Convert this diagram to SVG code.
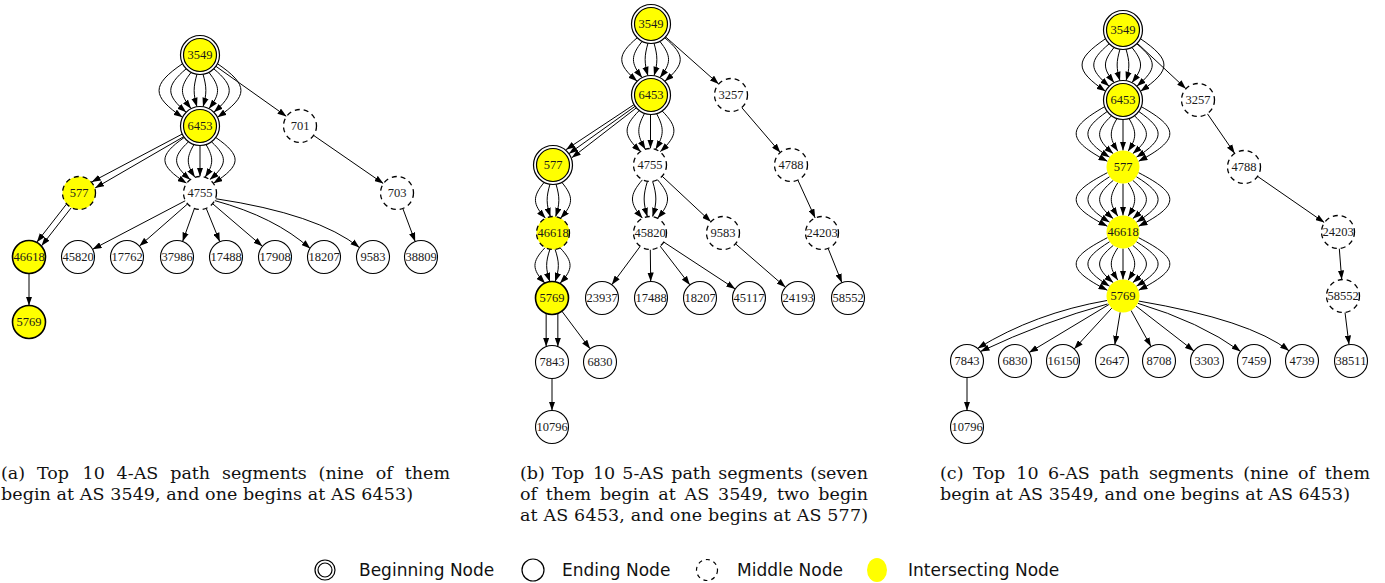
<svg xmlns="http://www.w3.org/2000/svg" width="1385" height="583" viewBox="0 0 1385 583">
  <defs>
    <style>
      .e { fill: none; stroke: #000; stroke-width: 1; marker-end: url(#ah); }
      .bo { fill: #fff; stroke: #000; stroke-width: 1.2; }
      .bi { fill: #ff0; stroke: #000; stroke-width: 1.2; }
      .en { fill: #fff; stroke: #000; stroke-width: 1.1; }
      .md { fill: #fff; stroke: #000; stroke-width: 1.3; stroke-dasharray: 5 4; }
      .ys { fill: #ff0; stroke: #000; stroke-width: 1.6; }
      .yd { fill: #ff0; stroke: #000; stroke-width: 1.3; stroke-dasharray: 5 4; }
      .yn { fill: #ff0; stroke: none; }
      .lb { font-family: "Liberation Serif", "Times New Roman", serif; font-size: 12.5px; text-anchor: middle; fill: #1a1a1a; }
      .cap { font-family: "DejaVu Serif", "Liberation Serif", serif; font-size: 17.5px; fill: #111; }
      .lg { font-family: "DejaVu Sans", "Liberation Sans", sans-serif; font-size: 17px; fill: #111; }
    </style>
    <marker id="ah" viewBox="0 0 10 7" refX="10" refY="3.5" markerWidth="9" markerHeight="6.5" markerUnits="userSpaceOnUse" orient="auto">
      <path d="M0,0 L10,3.5 L0,7 z" fill="#000"/>
    </marker>
  </defs>
  <rect width="1385" height="583" fill="#fff"/>

  <!-- edges -->
  <g id="connectors">
    <!-- (a) 3549 -> 6453, eight parallel edges -->
    <path class="e" d="M203.04,74.27 C206.79,87.27 206.79,93.73 203.04,106.73"/>
    <path class="e" d="M196.96,74.27 C193.21,87.27 193.21,93.73 196.96,106.73"/>
    <path class="e" d="M208.85,72.37 C220.45,86.87 220.45,94.13 208.85,108.63"/>
    <path class="e" d="M191.15,72.37 C179.55,86.87 179.55,94.13 191.15,108.63"/>
    <path class="e" d="M213.79,68.79 C234.4,86.16 234.4,94.84 213.79,112.21"/>
    <path class="e" d="M186.21,68.79 C165.6,86.16 165.6,94.84 186.21,112.21"/>
    <path class="e" d="M217.45,63.7 C248.78,85.14 248.78,95.86 217.45,117.3"/>
    <path class="e" d="M182.55,63.7 C151.22,85.14 151.22,95.86 182.55,117.3"/>
    <!-- (a) 3549 -> 701 -> 703 -> 38809 -->
    <path class="e" d="M215.9,66.3 L286.5,116.4"/>
    <path class="e" d="M313.6,135.4 L383.4,183.6"/>
    <path class="e" d="M402.8,208.4 L415.2,241.6"/>
    <!-- (a) 6453 -> 4755, seven edges -->
    <path class="e" d="M200,145.5 L200,176.5"/>
    <path class="e" d="M206.03,144.54 C213.75,157.64 213.75,164.21 205.1,177.31"/>
    <path class="e" d="M193.97,144.54 C186.25,157.64 186.25,164.21 194.9,177.31"/>
    <path class="e" d="M211.47,141.78 C227.67,156.93 227.67,164.5 209.7,179.65"/>
    <path class="e" d="M188.53,141.78 C172.33,156.93 172.33,164.5 190.3,179.65"/>
    <path class="e" d="M215.78,137.47 C241.95,155.8 241.95,164.97 213.35,183.3"/>
    <path class="e" d="M184.22,137.47 C158.05,155.8 158.05,164.97 186.65,183.3"/>
    <!-- (a) 6453 -> 577 -> 46618 -> 5769 -->
    <path class="e" d="M182.17,134.09 L91.71,181.94"/>
    <path class="e" d="M183.63,136.71 L95.09,188.06"/>
    <path class="e" d="M66.44,204.15 L36.84,242.15"/>
    <path class="e" d="M71.16,207.85 L41.56,245.85"/>
    <path class="e" d="M29,273.5 L29,305.5"/>
    <!-- (a) 4755 -> leaves -->
    <path class="e" d="M185.4,200.7 L92.6,249.3"/>
    <path class="e" d="M187.6,203.9 L139.4,246.1"/>
    <path class="e" d="M194.4,208.5 L182.6,241.5"/>
    <path class="e" d="M206.2,208.3 L219.8,241.7"/>
    <path class="e" d="M212.6,203.7 L262.4,246.3"/>
    <path class="e" d="M214.7,200.6 Q275,217 310.2,248.6"/>
    <path class="e" d="M215.5,198.7 Q318,214 359.4,247.6"/>

    <!-- (b) 3549 -> 6453, six edges -->
    <path class="e" d="M654.04,43.27 C657.79,56.27 657.79,62.73 654.04,75.73"/>
    <path class="e" d="M647.96,43.27 C644.21,56.27 644.21,62.73 647.96,75.73"/>
    <path class="e" d="M659.85,41.37 C671.45,55.87 671.45,63.13 659.85,77.63"/>
    <path class="e" d="M642.15,41.37 C630.55,55.87 630.55,63.13 642.15,77.63"/>
    <path class="e" d="M664.79,37.79 C685.4,55.16 685.4,63.84 664.79,81.21"/>
    <path class="e" d="M637.21,37.79 C616.6,55.16 616.6,63.84 637.21,81.21"/>
    <!-- (b) 3549 -> 3257 -> 4788 -> 24203 -> 58552 -->
    <path class="e" d="M665.6,36.9 L718.7,84"/>
    <path class="e" d="M741.7,107.5 L780.3,152.5"/>
    <path class="e" d="M797.8,180 L815.2,218"/>
    <path class="e" d="M828.1,248.3 L841.9,282.7"/>
    <!-- (b) 6453 -> 4755, five edges -->
    <path class="e" d="M650.5,114.5 L650.5,148.5"/>
    <path class="e" d="M656.53,113.54 C664.25,127.84 664.25,135.01 655.6,149.31"/>
    <path class="e" d="M644.47,113.54 C636.75,127.84 636.75,135.01 645.4,149.31"/>
    <path class="e" d="M661.97,110.78 C678.17,127.13 678.17,135.3 660.2,151.65"/>
    <path class="e" d="M639.03,110.78 C622.83,127.13 622.83,135.3 640.8,151.65"/>
    <!-- (b) 6453 -> 577, three edges -->
    <path class="e" d="M633.94,104.67 L566,149.63"/>
    <path class="e" d="M635.1,106.3 L568.9,153.7"/>
    <path class="e" d="M636.26,107.93 L571.8,157.77"/>
    <!-- (b) 577 -> 46618, four edges -->
    <path class="e" d="M556.04,184.27 C559.87,197.24 559.87,203.73 555.57,216.7"/>
    <path class="e" d="M549.96,184.27 C546.13,197.24 546.13,203.73 550.43,216.7"/>
    <path class="e" d="M561.85,182.37 C573.68,196.74 573.68,203.93 560.49,218.3"/>
    <path class="e" d="M544.15,182.37 C532.32,196.74 532.32,203.93 545.51,218.3"/>
    <!-- (b) 46618 -> 5769, four edges -->
    <path class="e" d="M555.07,249.3 C559.44,262.26 559.44,268.74 555.07,281.7"/>
    <path class="e" d="M549.93,249.3 C545.56,262.26 545.56,268.74 549.93,281.7"/>
    <path class="e" d="M559.99,247.7 C573.4,261.94 573.4,269.06 559.99,283.3"/>
    <path class="e" d="M545.01,247.7 C531.6,261.94 531.6,269.06 545.01,283.3"/>
    <!-- (b) 4755 -> 45820, four edges; 4755 -> 9583 -->
    <path class="e" d="M652.57,181.3 C656.94,195.46 656.94,202.54 652.57,216.7"/>
    <path class="e" d="M647.43,181.3 C643.06,195.46 643.06,202.54 647.43,216.7"/>
    <path class="e" d="M657.49,179.7 C670.9,195.14 670.9,202.86 657.49,218.3"/>
    <path class="e" d="M642.51,179.7 C629.1,195.14 629.1,202.86 642.51,218.3"/>
    <path class="e" d="M662.1,176.2 L710.9,221.8"/>
    <!-- (b) 45820 -> leaves, 9583 -> 24193 -->
    <path class="e" d="M640.2,246.3 L611.8,284.7"/>
    <path class="e" d="M650.3,249.5 L650.7,281.5"/>
    <path class="e" d="M660.1,246.1 L689.9,284.9"/>
    <path class="e" d="M663.8,242.1 L735.2,288.9"/>
    <path class="e" d="M735.5,243.8 L785.5,287.2"/>
    <!-- (b) 5769 -> 7843 (two), 5769 -> 6830, 7843 -> 10796 -->
    <path class="e" d="M546.15,313.43 L546.15,346.57"/>
    <path class="e" d="M557.85,313.43 L557.85,346.57"/>
    <path class="e" d="M561.9,311.2 L590.1,348.8"/>
    <path class="e" d="M552,378.5 L552,410.5"/>

    <!-- (c) 3549 -> 6453, eight edges -->
    <path class="e" d="M1126.04,49.27 C1129.79,62.27 1129.79,67.73 1126.04,80.73"/>
    <path class="e" d="M1119.96,49.27 C1116.21,62.27 1116.21,67.73 1119.96,80.73"/>
    <path class="e" d="M1131.85,47.37 C1143.45,61.87 1143.45,68.13 1131.85,82.63"/>
    <path class="e" d="M1114.15,47.37 C1102.55,61.87 1102.55,68.13 1114.15,82.63"/>
    <path class="e" d="M1136.79,43.79 C1157.4,61.16 1157.4,68.84 1136.79,86.21"/>
    <path class="e" d="M1109.21,43.79 C1088.6,61.16 1088.6,68.84 1109.21,86.21"/>
    <path class="e" d="M1140.45,38.7 C1171.78,60.14 1171.78,69.86 1140.45,91.3"/>
    <path class="e" d="M1105.55,38.7 C1074.22,60.14 1074.22,69.86 1105.55,91.3"/>
    <!-- (c) 3549 -> 3257 -> 4788 -> 24203 -> 58552 -> 38511 -->
    <path class="e" d="M1137.3,43.3 L1185.9,88.7"/>
    <path class="e" d="M1207.3,113.6 L1234.7,153.4"/>
    <path class="e" d="M1257.6,176.4 L1324.4,222.6"/>
    <path class="e" d="M1339.3,248.5 L1341.7,279.5"/>
    <path class="e" d="M1345,312.4 L1349,344.6"/>
    <!-- (c) 6453 -> 577, nine edges -->
    <path class="e" d="M1123,119.5 L1123,150.5"/>
    <path class="e" d="M1129.03,118.54 C1136.75,131.64 1136.75,138.21 1128.1,151.31"/>
    <path class="e" d="M1116.97,118.54 C1109.25,131.64 1109.25,138.21 1117.9,151.31"/>
    <path class="e" d="M1134.47,115.78 C1150.67,130.93 1150.67,138.5 1132.7,153.65"/>
    <path class="e" d="M1111.53,115.78 C1095.33,130.93 1095.33,138.5 1113.3,153.65"/>
    <path class="e" d="M1138.78,111.47 C1164.95,129.8 1164.95,138.97 1136.35,157.3"/>
    <path class="e" d="M1107.22,111.47 C1081.05,129.8 1081.05,138.97 1109.65,157.3"/>
    <path class="e" d="M1141.33,106.67 C1179.76,128.55 1179.76,139.48 1138.51,161.36"/>
    <path class="e" d="M1104.67,106.67 C1066.24,128.55 1066.24,139.48 1107.49,161.36"/>
    <!-- (c) 577 -> 46618, nine edges -->
    <path class="e" d="M1123,183.5 L1123,215.5"/>
    <path class="e" d="M1128.1,182.69 C1136.9,196.14 1136.9,202.86 1128.1,216.31"/>
    <path class="e" d="M1117.9,182.69 C1109.1,196.14 1109.1,202.86 1117.9,216.31"/>
    <path class="e" d="M1132.7,180.35 C1150.97,195.67 1150.97,203.33 1132.7,218.65"/>
    <path class="e" d="M1113.3,180.35 C1095.03,195.67 1095.03,203.33 1113.3,218.65"/>
    <path class="e" d="M1136.35,176.7 C1165.35,194.94 1165.35,204.06 1136.35,222.3"/>
    <path class="e" d="M1109.65,176.7 C1080.65,194.94 1080.65,204.06 1109.65,222.3"/>
    <path class="e" d="M1138.51,172.64 C1180.23,194.13 1180.23,204.87 1138.51,226.36"/>
    <path class="e" d="M1107.49,172.64 C1065.77,194.13 1065.77,204.87 1107.49,226.36"/>
    <!-- (c) 46618 -> 5769, nine edges -->
    <path class="e" d="M1123,248.5 L1123,279.5"/>
    <path class="e" d="M1128.1,247.69 C1136.9,261.14 1136.9,266.86 1128.1,280.31"/>
    <path class="e" d="M1117.9,247.69 C1109.1,261.14 1109.1,266.86 1117.9,280.31"/>
    <path class="e" d="M1132.7,245.35 C1150.97,260.67 1150.97,267.33 1132.7,282.65"/>
    <path class="e" d="M1113.3,245.35 C1095.03,260.67 1095.03,267.33 1113.3,282.65"/>
    <path class="e" d="M1136.35,241.7 C1165.35,259.94 1165.35,268.06 1136.35,286.3"/>
    <path class="e" d="M1109.65,241.7 C1080.65,259.94 1080.65,268.06 1109.65,286.3"/>
    <path class="e" d="M1138.51,237.64 C1180.23,259.13 1180.23,268.87 1138.51,290.36"/>
    <path class="e" d="M1107.49,237.64 C1065.77,259.13 1065.77,268.87 1107.49,290.36"/>
    <!-- (c) 5769 -> leaves -->
    <path class="e" d="M1107,300.5 Q1035,313 977.6,348.4"/>
    <path class="e" d="M1107.5,304 Q1045,321 980.5,351.5"/>
    <path class="e" d="M1108.9,304.5 L1029.1,352.5"/>
    <path class="e" d="M1111.8,308.1 L1074.2,348.9"/>
    <path class="e" d="M1120.2,312.3 L1114.8,344.7"/>
    <path class="e" d="M1131,310.4 L1151,346.6"/>
    <path class="e" d="M1136.1,306.1 L1193.9,350.9"/>
    <path class="e" d="M1137.8,303.3 Q1200,322 1240.6,351.4"/>
    <path class="e" d="M1138.5,301 Q1250,320 1289,350.8"/>
    <path class="e" d="M967,377.5 L967,410.5"/>
  </g>

  <!-- (a) nodes -->
  <g id="a-3549"><circle class="bo" cx="200" cy="55" r="19.5"/><circle class="bi" cx="200" cy="55" r="16.5"/><text class="lb" x="200" y="59.3">3549</text></g>
  <g id="a-6453"><circle class="bo" cx="200" cy="126" r="19.5"/><circle class="bi" cx="200" cy="126" r="16.5"/><text class="lb" x="200" y="130.3">6453</text></g>
  <g id="a-701"><circle class="md" cx="300" cy="126" r="16.5"/><text class="lb" x="300" y="130.3">701</text></g>
  <g id="a-577"><circle class="yd" cx="79" cy="193" r="16.5"/><text class="lb" x="79" y="197.3">577</text></g>
  <g id="a-4755"><circle class="md" cx="200" cy="193" r="16.5"/><text class="lb" x="200" y="197.3">4755</text></g>
  <g id="a-703"><circle class="md" cx="397" cy="193" r="16.5"/><text class="lb" x="397" y="197.3">703</text></g>
  <g id="a-46618"><circle class="ys" cx="29" cy="257" r="16.5"/><text class="lb" x="29" y="261.3">46618</text></g>
  <g id="a-45820"><circle class="en" cx="78" cy="257" r="16.5"/><text class="lb" x="78" y="261.3">45820</text></g>
  <g id="a-17762"><circle class="en" cx="127" cy="257" r="16.5"/><text class="lb" x="127" y="261.3">17762</text></g>
  <g id="a-37986"><circle class="en" cx="177" cy="257" r="16.5"/><text class="lb" x="177" y="261.3">37986</text></g>
  <g id="a-17488"><circle class="en" cx="226" cy="257" r="16.5"/><text class="lb" x="226" y="261.3">17488</text></g>
  <g id="a-17908"><circle class="en" cx="275" cy="257" r="16.5"/><text class="lb" x="275" y="261.3">17908</text></g>
  <g id="a-18207"><circle class="en" cx="324" cy="257" r="16.5"/><text class="lb" x="324" y="261.3">18207</text></g>
  <g id="a-9583"><circle class="en" cx="373" cy="257" r="16.5"/><text class="lb" x="373" y="261.3">9583</text></g>
  <g id="a-38809"><circle class="en" cx="421" cy="257" r="16.5"/><text class="lb" x="421" y="261.3">38809</text></g>
  <g id="a-5769"><circle class="ys" cx="29" cy="322" r="16.5"/><text class="lb" x="29" y="326.3">5769</text></g>

  <!-- (b) nodes -->
  <g id="b-3549"><circle class="bo" cx="651" cy="24" r="19.5"/><circle class="bi" cx="651" cy="24" r="16.5"/><text class="lb" x="651" y="28.3">3549</text></g>
  <g id="b-6453"><circle class="bo" cx="651" cy="95" r="19.5"/><circle class="bi" cx="651" cy="95" r="16.5"/><text class="lb" x="651" y="99.3">6453</text></g>
  <g id="b-3257"><circle class="md" cx="731" cy="95" r="16.5"/><text class="lb" x="731" y="99.3">3257</text></g>
  <g id="b-577"><circle class="bo" cx="553" cy="165" r="19.5"/><circle class="bi" cx="553" cy="165" r="16.5"/><text class="lb" x="553" y="169.3">577</text></g>
  <g id="b-4755"><circle class="md" cx="650" cy="165" r="16.5"/><text class="lb" x="650" y="169.3">4755</text></g>
  <g id="b-4788"><circle class="md" cx="791" cy="165" r="16.5"/><text class="lb" x="791" y="169.3">4788</text></g>
  <g id="b-46618"><circle class="yd" cx="553" cy="233" r="16.5"/><text class="lb" x="553" y="237.3">46618</text></g>
  <g id="b-45820"><circle class="md" cx="650" cy="233" r="16.5"/><text class="lb" x="650" y="237.3">45820</text></g>
  <g id="b-9583"><circle class="md" cx="723" cy="233" r="16.5"/><text class="lb" x="723" y="237.3">9583</text></g>
  <g id="b-24203"><circle class="md" cx="822" cy="233" r="16.5"/><text class="lb" x="822" y="237.3">24203</text></g>
  <g id="b-5769"><circle class="ys" cx="552" cy="298" r="16.5"/><text class="lb" x="552" y="302.3">5769</text></g>
  <g id="b-23937"><circle class="en" cx="602" cy="298" r="16.5"/><text class="lb" x="602" y="302.3">23937</text></g>
  <g id="b-17488"><circle class="en" cx="651" cy="298" r="16.5"/><text class="lb" x="651" y="302.3">17488</text></g>
  <g id="b-18207"><circle class="en" cx="700" cy="298" r="16.5"/><text class="lb" x="700" y="302.3">18207</text></g>
  <g id="b-45117"><circle class="en" cx="749" cy="298" r="16.5"/><text class="lb" x="749" y="302.3">45117</text></g>
  <g id="b-24193"><circle class="en" cx="798" cy="298" r="16.5"/><text class="lb" x="798" y="302.3">24193</text></g>
  <g id="b-58552"><circle class="en" cx="848" cy="298" r="16.5"/><text class="lb" x="848" y="302.3">58552</text></g>
  <g id="b-7843"><circle class="en" cx="552" cy="362" r="16.5"/><text class="lb" x="552" y="366.3">7843</text></g>
  <g id="b-6830"><circle class="en" cx="600" cy="362" r="16.5"/><text class="lb" x="600" y="366.3">6830</text></g>
  <g id="b-10796"><circle class="en" cx="552" cy="427" r="16.5"/><text class="lb" x="552" y="431.3">10796</text></g>

  <!-- (c) nodes -->
  <g id="c-3549"><circle class="bo" cx="1123" cy="30" r="19.5"/><circle class="bi" cx="1123" cy="30" r="16.5"/><text class="lb" x="1123" y="34.3">3549</text></g>
  <g id="c-6453"><circle class="bo" cx="1123" cy="100" r="19.5"/><circle class="bi" cx="1123" cy="100" r="16.5"/><text class="lb" x="1123" y="104.3">6453</text></g>
  <g id="c-3257"><circle class="md" cx="1198" cy="100" r="16.5"/><text class="lb" x="1198" y="104.3">3257</text></g>
  <g id="c-577"><circle class="yn" cx="1123" cy="167" r="16.5"/><text class="lb" x="1123" y="171.3">577</text></g>
  <g id="c-4788"><circle class="md" cx="1244" cy="167" r="16.5"/><text class="lb" x="1244" y="171.3">4788</text></g>
  <g id="c-46618"><circle class="yn" cx="1123" cy="232" r="16.5"/><text class="lb" x="1123" y="236.3">46618</text></g>
  <g id="c-24203"><circle class="md" cx="1338" cy="232" r="16.5"/><text class="lb" x="1338" y="236.3">24203</text></g>
  <g id="c-5769"><circle class="yn" cx="1123" cy="296" r="16.5"/><text class="lb" x="1123" y="300.3">5769</text></g>
  <g id="c-58552"><circle class="md" cx="1343" cy="296" r="16.5"/><text class="lb" x="1343" y="300.3">58552</text></g>
  <g id="c-7843"><circle class="en" cx="967" cy="361" r="16.5"/><text class="lb" x="967" y="365.3">7843</text></g>
  <g id="c-6830"><circle class="en" cx="1015" cy="361" r="16.5"/><text class="lb" x="1015" y="365.3">6830</text></g>
  <g id="c-16150"><circle class="en" cx="1063" cy="361" r="16.5"/><text class="lb" x="1063" y="365.3">16150</text></g>
  <g id="c-2647"><circle class="en" cx="1112" cy="361" r="16.5"/><text class="lb" x="1112" y="365.3">2647</text></g>
  <g id="c-8708"><circle class="en" cx="1159" cy="361" r="16.5"/><text class="lb" x="1159" y="365.3">8708</text></g>
  <g id="c-3303"><circle class="en" cx="1207" cy="361" r="16.5"/><text class="lb" x="1207" y="365.3">3303</text></g>
  <g id="c-7459"><circle class="en" cx="1254" cy="361" r="16.5"/><text class="lb" x="1254" y="365.3">7459</text></g>
  <g id="c-4739"><circle class="en" cx="1302" cy="361" r="16.5"/><text class="lb" x="1302" y="365.3">4739</text></g>
  <g id="c-38511"><circle class="en" cx="1351" cy="361" r="16.5"/><text class="lb" x="1351" y="365.3">38511</text></g>
  <g id="c-10796"><circle class="en" cx="967" cy="427" r="16.5"/><text class="lb" x="967" y="431.3">10796</text></g>

  <!-- captions: justified first lines set word by word -->
  <g id="captions">
    <text class="cap" y="479"><tspan x="1">(a)</tspan><tspan x="37">Top</tspan><tspan x="82.5">10</tspan><tspan x="116.6">4-AS</tspan><tspan x="170.2">path</tspan><tspan x="222">segments</tspan><tspan x="318.6">(nine</tspan><tspan x="375.8">of</tspan></text>
    <text class="cap" x="450" y="479" text-anchor="end">them</text>
    <text class="cap" x="1" y="500" textLength="412" lengthAdjust="spacing">begin at AS 3549, and one begins at AS 6453)</text>

    <text class="cap" y="479"><tspan x="520">(b)</tspan><tspan x="552.1">Top</tspan><tspan x="592.9">10</tspan><tspan x="622.3">5-AS</tspan><tspan x="671.2">path</tspan><tspan x="718.3">segments</tspan></text>
    <text class="cap" x="868" y="479" text-anchor="end">(seven</text>
    <text class="cap" y="500"><tspan x="520">of</tspan><tspan x="545.8">them</tspan><tspan x="599.9">begin</tspan><tspan x="658.3">at</tspan><tspan x="684.6">AS</tspan><tspan x="718">3549,</tspan><tspan x="776.9">two</tspan></text>
    <text class="cap" x="868" y="500" text-anchor="end">begin</text>
    <text class="cap" x="520" y="521" textLength="348" lengthAdjust="spacing">at AS 6453, and one begins at AS 577)</text>

    <text class="cap" y="479"><tspan x="940">(c)</tspan><tspan x="973.1">Top</tspan><tspan x="1016.3">10</tspan><tspan x="1048.1">6-AS</tspan><tspan x="1099.4">path</tspan><tspan x="1148.9">segments</tspan><tspan x="1243.2">(nine</tspan><tspan x="1298.1">of</tspan></text>
    <text class="cap" x="1370" y="479" text-anchor="end">them</text>
    <text class="cap" x="940" y="500" textLength="410" lengthAdjust="spacing">begin at AS 3549, and one begins at AS 6453)</text>
  </g>

  <!-- legend -->
  <g id="legend">
    <circle cx="325" cy="570" r="10" fill="#fff" stroke="#000" stroke-width="1.2"/>
    <circle cx="325" cy="570" r="7" fill="#fff" stroke="#000" stroke-width="1.2"/>
    <text class="lg" x="359" y="576">Beginning Node</text>
    <circle cx="533" cy="570" r="11" fill="#fff" stroke="#000" stroke-width="1.2"/>
    <text class="lg" x="562" y="576">Ending Node</text>
    <circle cx="707" cy="570" r="10.5" fill="#fff" stroke="#000" stroke-width="1.2" stroke-dasharray="4 4"/>
    <text class="lg" x="737" y="576">Middle Node</text>
    <ellipse cx="877" cy="570" rx="10" ry="12" fill="#ff0"/>
    <text class="lg" x="908" y="576">Intersecting Node</text>
  </g>
</svg>
